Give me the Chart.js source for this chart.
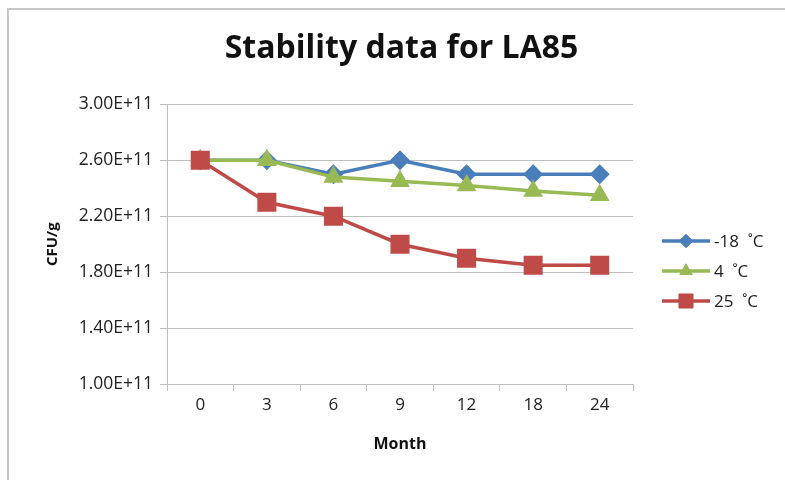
<!DOCTYPE html>
<html>
<head>
<meta charset="utf-8">
<script src="https://cdn.jsdelivr.net/npm/chart.js@4"></script>
<style>
  html, body { margin: 0; padding: 0; background: #fff; }
  #wrap { position: relative; width: 785px; height: 480px; overflow: hidden; }
  #frame { position: absolute; left: 7px; top: 8px; width: 800px; height: 500px;
           border-left: 2px solid #c8c8c8; border-top: 2px solid #c8c8c8; pointer-events: none; }
</style>
</head>
<body>
<div id="wrap">
  <canvas id="stabilityChart" width="785" height="480"></canvas>
  <div id="frame"></div>
</div>
<script>
// Stability data (CFU/g)
const months = ["0", "3", "6", "9", "12", "18", "24"];
const minus18 = [2.60e11, 2.60e11, 2.50e11, 2.60e11, 2.50e11, 2.50e11, 2.50e11];
const plus4 = [2.60e11, 2.60e11, 2.48e11, 2.45e11, 2.42e11, 2.38e11, 2.35e11];
const plus25 = [2.60e11, 2.30e11, 2.20e11, 2.00e11, 1.90e11, 1.85e11, 1.85e11];
const seriesNames = ["-18  \u02daC", "4  \u02daC", "25  \u02daC"];

const font = "'Open Sans', 'DejaVu Sans', sans-serif";
const gridColor = '#bfbfbf';

// legend drawn as line + marker like the original
const legendPlugin = {
    id: 'lineLegend',
    afterDraw(chart) {
        const ctx = chart.ctx;
        const x0 = chart.chartArea.right + 29;
        const yStart = 241, gap = 30;
        chart.data.datasets.forEach((ds, i) => {
            const y = yStart + i * gap;
            ctx.save();
            ctx.strokeStyle = ds.borderColor;
            ctx.fillStyle = ds.backgroundColor;
            ctx.lineWidth = 3.5;
            ctx.beginPath();
            ctx.moveTo(x0, y);
            ctx.lineTo(x0 + 48, y);
            ctx.stroke();
            ctx.lineWidth = 1;
            Chart.helpers.drawPoint(ctx, {
                pointStyle: ds.pointStyle,
                radius: ds.pointRadius * 0.9,
                rotation: 0,
                borderWidth: 1
            }, x0 + 24, y);
            ctx.fillStyle = '#222';
            ctx.font = "17px " + font;
            ctx.textBaseline = 'middle';
            ctx.fillText(ds.label, x0 + 52, y + 1);
            ctx.restore();
        });
    }
};

const ctx = document.getElementById('stabilityChart').getContext('2d');
const stabilityChart = new Chart(ctx, {
    type: 'line',
    data: {
        labels: months,
        datasets: [
            {
                label: seriesNames[0],
                data: minus18,
                borderColor: '#4a7ebb',
                backgroundColor: '#4a7ebb',
                borderWidth: 3.5,
                pointStyle: 'rectRot',
                pointRadius: 7.5,
                pointHoverRadius: 7.5,
                order: 3
            },
            {
                label: seriesNames[1],
                data: plus4,
                borderColor: '#98b954',
                backgroundColor: '#98b954',
                borderWidth: 3.5,
                pointStyle: 'triangle',
                pointRadius: 8,
                pointHoverRadius: 8,
                order: 2
            },
            {
                label: seriesNames[2],
                data: plus25,
                borderColor: '#be4b48',
                backgroundColor: '#be4b48',
                borderWidth: 3.5,
                pointStyle: 'rect',
                pointRadius: 11,
                pointHoverRadius: 11,
                order: 1
            }
        ]
    },
    options: {
        responsive: false,
        animation: false,
        layout: { padding: { left: 18, right: 0, top: 0, bottom: 22 } },
        plugins: {
            legend: { display: false },
            tooltip: { enabled: false },
            title: {
                display: true,
                text: 'Stability data for LA85',
                color: '#111',
                font: { family: font, size: 32, weight: 'bold' },
                padding: { top: 30, bottom: 36 }
            }
        },
        scales: {
            x: {
                offset: true,
                grid: {
                    offset: true,
                    drawOnChartArea: false,
                    color: gridColor,
                    tickLength: 7
                },
                border: { color: gridColor, width: 1 },
                ticks: { color: '#222', font: { family: font, size: 17 }, padding: 4, maxRotation: 0 },
                title: {
                    display: true,
                    text: 'Month',
                    color: '#111',
                    font: { family: font, size: 16, weight: 'bold' },
                    padding: { top: 4, bottom: 4 }
                },
                afterFit(scale) { scale.height = 74; }
            },
            y: {
                min: 1e11,
                max: 3e11,
                grid: { color: gridColor, tickLength: 7 },
                border: { color: gridColor, width: 1 },
                ticks: {
                    stepSize: 4e10,
                    color: '#222',
                    font: { family: font, size: 17.5 },
                    padding: 7,
                    callback: v => (v / 1e11).toFixed(2) + 'E+11'
                },
                title: {
                    display: true,
                    text: 'CFU/g',
                    color: '#111',
                    font: { family: font, size: 15, weight: 'bold' },
                    padding: { top: 26, bottom: 0 }
                },
                afterFit(scale) { scale.width = 149; }
            },
            // empty right-hand box that reserves room for the legend
            legendSpace: {
                type: 'linear',
                position: 'right',
                display: true,
                grid: { display: false },
                border: { display: false },
                ticks: { display: false },
                afterFit(scale) { scale.width = 152; }
            }
        }
    },
    plugins: [legendPlugin]
});
</script>
</body>
</html>
